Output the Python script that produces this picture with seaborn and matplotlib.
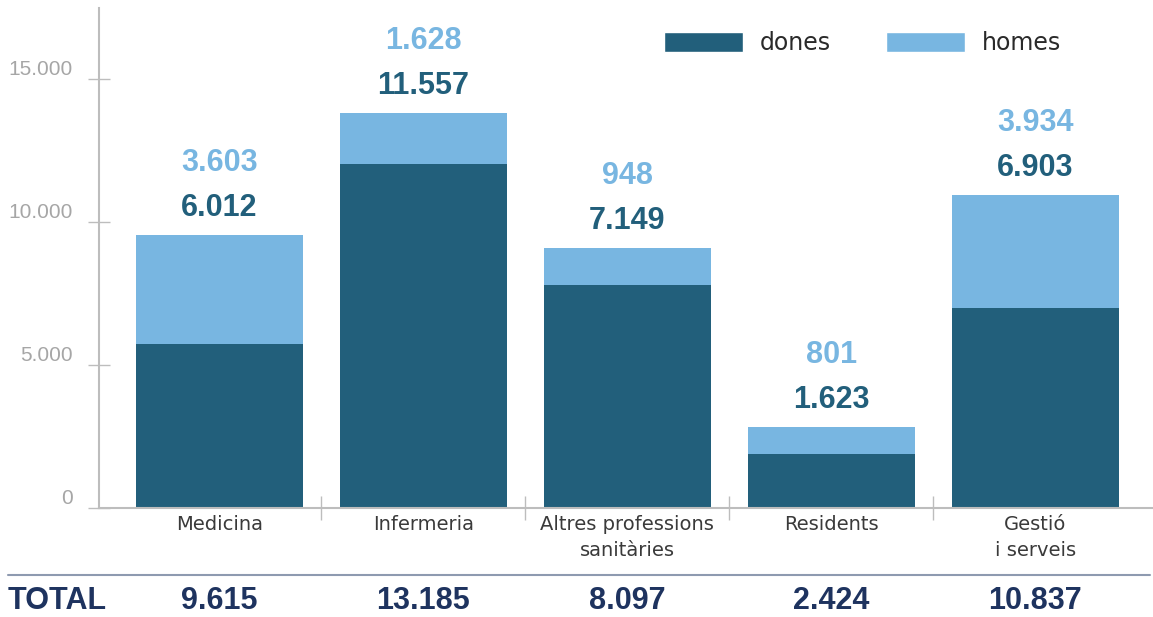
import matplotlib
matplotlib.use('Agg')
import matplotlib.pyplot as plt
import seaborn as sns
from matplotlib.patches import Patch
from matplotlib.lines import Line2D

# ==========================================
# DATA
# ==========================================
categories = ['Medicina', 'Infermeria', 'Altres professions\nsanitàries', 'Residents', 'Gestió\ni serveis']

# bar heights as drawn in the chart
dones_bar = [5730, 12030, 7800, 1890, 6990]
total_bar = [9545, 13810, 9090, 2830, 10940]

# printed values
dones_val = [6012, 11557, 7149, 1623, 6903]
homes_val = [3603, 1628, 948, 801, 3934]
total_val = [9615, 13185, 8097, 2424, 10837]

y_ticks = [0, 5000, 10000, 15000]

# ==========================================
# STYLE
# ==========================================
DARK = '#225F7B'
LIGHT = '#78B6E1'
NAVY = '#1E335F'
AXIS = '#BDBDBD'


def fmt(v):
    # catalan thousands separator
    return f"{v:,}".replace(',', '.')


sns.set_style('white')
plt.rcParams['font.family'] = ['Liberation Sans', 'DejaVu Sans']

fig = plt.figure(figsize=(11.53, 6.17), dpi=100)
ax = fig.add_axes([99 / 1153, 1 - 508 / 617, 1 - 99 / 1153, 500 / 617])

# stacked bars: total (homes on top) then dones over it
sns.barplot(x=categories, y=total_bar, color=LIGHT, saturation=1, width=0.82, linewidth=0, ax=ax)
sns.barplot(x=categories, y=dones_bar, color=DARK, saturation=1, width=0.82, linewidth=0, ax=ax)

ax.set_xlim(-0.59, 4.576)
ax.set_ylim(0, 17480)

# axes look
for s in ['top', 'right']:
    ax.spines[s].set_visible(False)
for s in ['left', 'bottom']:
    ax.spines[s].set_color(AXIS)
    ax.spines[s].set_linewidth(1.5)

ax.set_yticks(y_ticks)
ax.set_yticklabels([fmt(v) for v in y_ticks])
ax.tick_params(axis='y', left=True, direction='inout', length=16, width=1, color=AXIS,
               pad=11, labelsize=15, labelcolor='#A6A6A6')
for lab in ax.get_yticklabels():
    lab.set_va('bottom')

ax.set_xticks(range(len(categories)))
ax.set_xticklabels(categories, family='DejaVu Sans', fontsize=14, color='#3A3A3A', linespacing=1.45)
ax.set_xticks([0.5, 1.5, 2.5, 3.5], minor=True)
ax.tick_params(axis='x', which='major', bottom=True, length=0, pad=5)
ax.tick_params(axis='x', which='minor', bottom=True, direction='inout', length=17, width=1, color=AXIS)
ax.set_xlabel('')
ax.set_ylabel('')

# value labels above each bar
for i in range(len(categories)):
    ax.annotate(fmt(dones_val[i]), (i, total_bar[i]), xytext=(0, 14), textcoords='offset points',
                ha='center', va='baseline', fontsize=22, fontweight='bold', color=DARK)
    ax.annotate(fmt(homes_val[i]), (i, total_bar[i]), xytext=(0, 46), textcoords='offset points',
                ha='center', va='baseline', fontsize=22, fontweight='bold', color=LIGHT)

# TOTAL row
fig.add_artist(Line2D([8 / 1153, 1150 / 1153], [1 - 575 / 617] * 2, color='#8E9AB0', linewidth=1.5))
tr = ax.get_xaxis_transform()
for i in range(len(categories)):
    ax.text(i, -0.186, fmt(total_val[i]), transform=tr, ha='center', va='center',
            fontsize=22, fontweight='bold', color=NAVY, clip_on=False)
fig.text(8 / 1153, 1 - 601 / 617, 'TOTAL', ha='left', va='center',
         fontsize=22, fontweight='bold', color=NAVY)

# legend
handles = [Patch(facecolor=DARK, label='dones'), Patch(facecolor=LIGHT, label='homes')]
fig.legend(handles=handles, loc='upper left', bbox_to_anchor=(664 / 1153, 1 - 31 / 617),
           ncol=2, frameon=False, borderpad=0, borderaxespad=0,
           handlelength=3.35, handleheight=0.93, handletextpad=0.72, columnspacing=2.3,
           prop={'family': 'DejaVu Sans', 'size': 17}, labelcolor='#2A2A2A')

fig.savefig('out.png', dpi=100)
